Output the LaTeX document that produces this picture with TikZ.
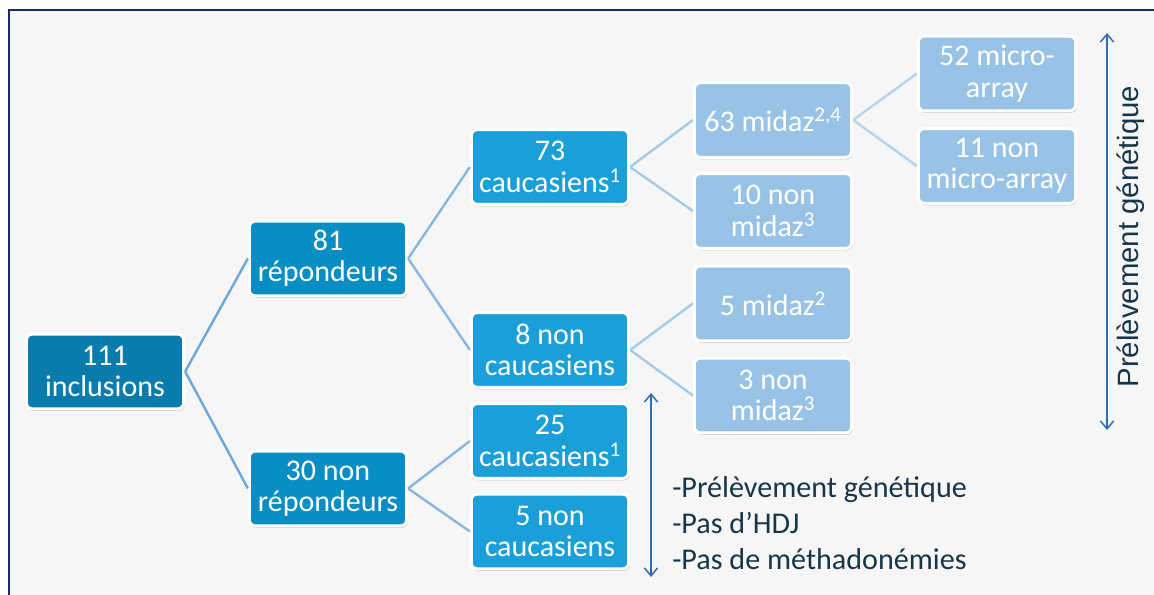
\documentclass[tikz,border=0pt]{standalone}
\usepackage{fontspec}
\setmainfont{Carlito}
\newfontfamily\arialfont{Liberation Sans}
\usetikzlibrary{shadows,arrows.meta}

\definecolor{framenavy}{RGB}{22,44,110}
\definecolor{paper}{RGB}{246,246,246}
\definecolor{blueone}{RGB}{10,123,173}
\definecolor{bluetwo}{RGB}{8,141,196}
\definecolor{bluethree}{RGB}{27,159,217}
\definecolor{bluefour}{RGB}{152,195,230}
\definecolor{lineone}{RGB}{108,167,220}
\definecolor{linetwo}{RGB}{135,184,228}
\definecolor{linethree}{RGB}{165,203,235}
\definecolor{linefour}{RGB}{180,212,238}
\definecolor{notetext}{RGB}{24,54,74}
\definecolor{arrowblue}{RGB}{46,108,180}

\tikzset{
  box/.style={rectangle, rounded corners=4.5pt, draw=white, line width=2.2pt,
    text=white, minimum width=118pt, minimum height=56pt, align=center,
    inner sep=1pt, font=\fontsize{22.5}{23.5}\selectfont,
    drop shadow={shadow xshift=0.8pt, shadow yshift=-1.5pt, opacity=0.35, fill=black!55}},
  boxone/.style={box, fill=blueone},
  boxtwo/.style={box, fill=bluetwo},
  boxthree/.style={box, fill=bluethree},
  boxfour/.style={box, fill=bluefour},
  link/.style={line width=1.8pt},
  span/.style={arrowblue, line width=1.1pt,
    {Straight Barb[length=6pt,width=10pt]}-{Straight Barb[length=6pt,width=10pt]}},
  note/.style={text=notetext, inner sep=0pt}
}

\begin{document}
\begin{tikzpicture}[x=0.75pt,y=0.75pt,yscale=-1,xscale=1]
        \useasboundingbox (0,0) rectangle (1154,595);
        % background and frame
        \fill [white] (0,0) rectangle (1154,595);
        \fill [paper] (9,10) rectangle (1154,595);
        \draw [framenavy, line width=2.2pt] (9,595) -- (9,10) -- (1154,10);

        % Boxes
        \node [boxone] (incl) at (105,371.5) {111\\inclusions};
        \node [boxtwo] (rep) at (328,258.5) {81\\répondeurs};
        \node [boxtwo] (nonrep) at (328,488.5) {30 non\\répondeurs};
        \node [boxthree] (cau) at (550,167) {73\\caucasiens\textsuperscript{1}};
        \node [boxthree] (noncau) at (550,350) {8 non\\caucasiens};
        \node [boxthree] (caub) at (550,441) {25\\caucasiens\textsuperscript{1}};
        \node [boxthree] (noncaub) at (550,531.5) {5 non\\caucasiens};
        \node [boxfour] (midaz) at (773,120) {63 midaz\textsuperscript{2,4}};
        \node [boxfour] (nonmidaz) at (773,211) {10 non\\midaz\textsuperscript{3}};
        \node [boxfour] (midazb) at (773,303.5) {5 midaz\textsuperscript{2}};
        \node [boxfour] (nonmidazb) at (773,395.5) {3 non\\midaz\textsuperscript{3}};
        \node [boxfour] (array) at (997,73.5) {52 micro-\\array};
        \node [boxfour] (nonarray) at (997,166) {11 non\\micro-array};

        % Links
        \draw [link, lineone] (incl.east) -- (rep.west);
        \draw [link, lineone] (incl.east) -- (nonrep.west);
        \draw [link, linetwo] (rep.east) -- (cau.west);
        \draw [link, linetwo] (rep.east) -- (noncau.west);
        \draw [link, linetwo] (nonrep.east) -- (caub.west);
        \draw [link, linetwo] (nonrep.east) -- (noncaub.west);
        \draw [link, linethree] (cau.east) -- (midaz.west);
        \draw [link, linethree] (cau.east) -- (nonmidaz.west);
        \draw [link, linethree] (noncau.east) -- (midazb.west);
        \draw [link, linethree] (noncau.east) -- (nonmidazb.west);
        \draw [link, linefour] (midaz.east) -- (array.west);
        \draw [link, linefour] (midaz.east) -- (nonarray.west);

        % Span arrows
        \coordinate (gtop) at (1107,33);
        \coordinate (gbot) at (1107,430);
        \draw [span] (gtop) -- (gbot);
        \node [note, rotate=90, font=\arialfont\fontsize{22}{26}\selectfont] (gtext) at (1131,236.5) {Prélèvement génétique};

        \coordinate (ntop) at (651,393);
        \coordinate (nbot) at (651,577);
        \draw [span] (ntop) -- (nbot);
        \node [note, anchor=west, align=left, font=\fontsize{22.6}{27}\selectfont] (notes) at (672,523) {-Prélèvement génétique\\-Pas d’HDJ\\-Pas de méthadonémies};

    \end{tikzpicture}
\end{document}
